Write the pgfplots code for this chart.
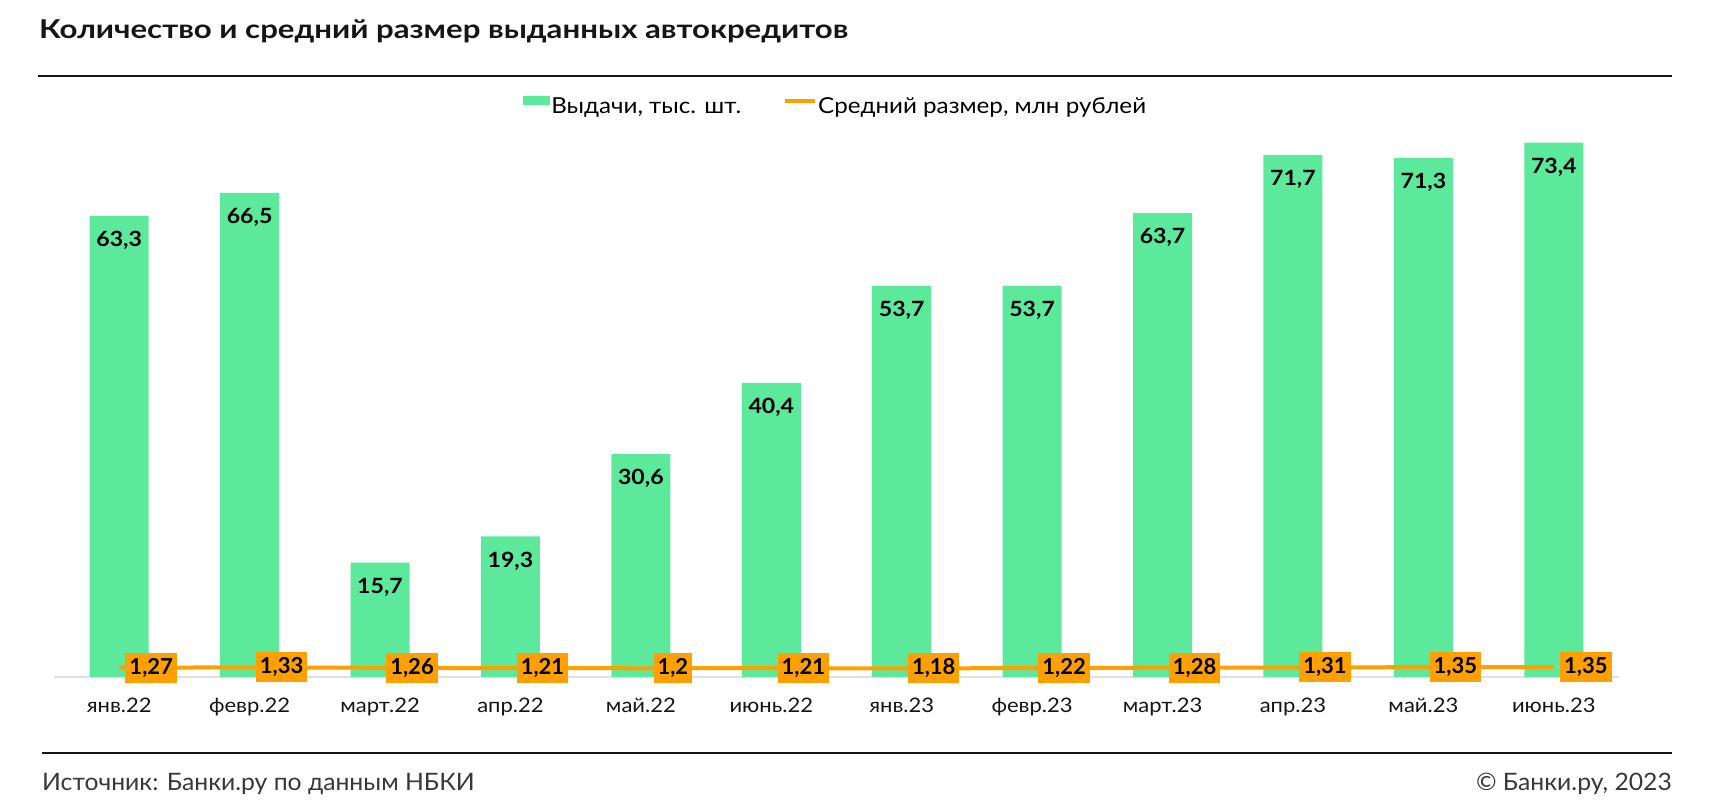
\documentclass[border=0pt]{standalone}
\usepackage{fontspec}
\setmainfont{Lato}
\usepackage{pgfplots}
\pgfplotsset{compat=1.18}

\definecolor{barg}{HTML}{5CE99C}
\definecolor{lineo}{HTML}{FFA000}
\definecolor{ink}{HTML}{151515}

% the reference face is a wide geometric sans: widen Lato a little
\newcommand{\wide}[1]{\addfontfeature{FakeStretch=#1}}

\begin{document}
\begin{tikzpicture}[x=1bp,y=1bp]
\path[use as bounding box] (0,0) rectangle (1712,810);

% title, rules, footer
\node[anchor=base west, inner sep=0pt, text=ink,
      font=\fontsize{26bp}{30bp}\selectfont\bfseries\wide{1.2}] at (39,771.7)
      {Количество и средний размер выданных автокредитов};
\draw[ink, line width=1.6bp] (38,734) -- (1672,734);
\draw[ink, line width=1.6bp] (42,57) -- (1672,57);
\node[anchor=base west, inner sep=0pt, text=ink!85,
      font=\fontsize{24bp}{28bp}\selectfont\wide{1.03}] at (42,19)
      {Источник: Банки.ру по данным НБКИ};
\node[anchor=base east, inner sep=0pt, text=ink!85,
      font=\fontsize{24bp}{28bp}\selectfont\wide{1.03}] at (1672,19)
      {© Банки.ру, 2023};

\begin{axis}[
  at={(54bp,133bp)}, anchor=south west,
  scale only axis, width=1565bp, height=557bp,
  xmin=-0.5, xmax=11.5, ymin=0, ymax=76.5,
  clip=false,
  axis x line*=bottom, axis y line=none,
  axis line style={draw=black!12, line width=2bp},
  major tick length=0pt,
  xtick={0,...,11},
  xticklabels={янв.22, февр.22, март.22, апр.22, май.22, июнь.22,
               янв.23, февр.23, март.23, апр.23, май.23, июнь.23},
  xticklabel style={anchor=base, yshift=-36bp, text=ink,
                    font=\fontsize{20bp}{24bp}\selectfont\wide{1.1}},
  /pgf/number format/fixed,
  /pgf/number format/precision=2,
  /pgf/number format/use comma,
  /pgf/number format/assume math mode=true,
  legend columns=2,
  legend style={draw=none, fill=none, inner sep=0pt,
                at={(0.2994,1.0251)}, anchor=west,
                font=\fontsize{22bp}{26bp}\selectfont\wide{1.1},
                nodes={inner sep=1.5bp},
                /tikz/every even column/.append style={column sep=40bp}},
]
\addplot[ybar, bar width=59bp, fill=barg, draw=none,
  nodes near coords,
  every node near coord/.append style={anchor=north, yshift=-15bp,
     inner sep=0pt, text=black,
     font=\fontsize{21bp}{24bp}\selectfont\bfseries\wide{1.1}},
  legend image code/.code={\fill[barg] (0bp,1bp) rectangle (27bp,10bp);}]
  coordinates {(0,63.3) (1,66.5) (2,15.7) (3,19.3) (4,30.6) (5,40.4)
               (6,53.7) (7,53.7) (8,63.7) (9,71.7) (10,71.3) (11,73.4)};
\addlegendentry{Выдачи, тыс. шт.}

\addplot[lineo, line width=4bp, mark=none,
  nodes near coords,
  every node near coord/.append style={anchor=center, xshift=32bp,
     fill=lineo, text=black, inner xsep=4bp, inner ysep=0pt,
     minimum height=30bp, font=\fontsize{22bp}{24bp}\selectfont\bfseries},
  legend image code/.code={\draw[lineo, line width=4bp] (0bp,5.5bp) -- (30bp,5.5bp);}]
  coordinates {(0,1.27) (1,1.33) (2,1.26) (3,1.21) (4,1.2) (5,1.21)
               (6,1.18) (7,1.22) (8,1.28) (9,1.31) (10,1.35) (11,1.35)};
\addlegendentry{Средний размер, млн рублей}
\end{axis}
\end{tikzpicture}
\end{document}
